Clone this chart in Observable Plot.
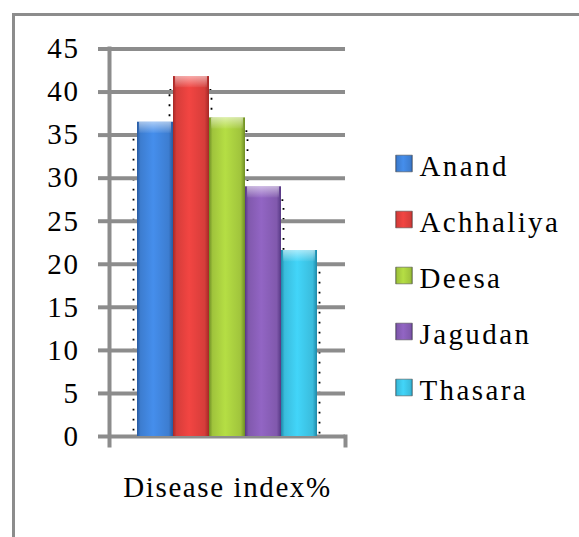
<!DOCTYPE html>
<html><head><meta charset="utf-8">
<script src="https://cdn.jsdelivr.net/npm/d3@7"></script>
<script src="https://cdn.jsdelivr.net/npm/@observablehq/plot@0.6"></script>
<style>
html,body{margin:0;padding:0;background:#fff;}
#wrap{position:relative;width:579px;height:537px;overflow:hidden;background:#fff;}
#wrap svg{position:absolute;top:0;max-width:none;}
#border{position:absolute;left:12px;top:13px;width:620px;height:600px;border:3px solid #8c8c8c;box-sizing:border-box;pointer-events:none;}
</style></head><body>
<div id="wrap"></div>
<script>
// ---- data ----
const category = "Disease index%";
const series = ["Anand", "Achhaliya", "Deesa", "Jagudan", "Thasara"];
const values = [36.5, 41.8, 37.0, 29.0, 21.6];
const yTicks = [0, 5, 10, 15, 20, 25, 30, 35, 40, 45];
const baseColors = ["#3d7dd0", "#d63d3a", "#a0c43c", "#8159ad", "#3abcdc"];
const edgeColors = ["#285aa0", "#a52826", "#6f8e25", "#563884", "#1d88a8"];

const rows = series.map((s, i) => ({category, series: s, value: values[i]}));

const wrap = document.getElementById("wrap");

// gradient definitions (styling only)
const ns = "http://www.w3.org/2000/svg";
const defsSvg = document.createElementNS(ns, "svg");
defsSvg.setAttribute("width", 0); defsSvg.setAttribute("height", 0);
defsSvg.style.position = "absolute";
let defsHtml = "<defs>";
series.forEach((s, i) => {
  const light = d3.color(baseColors[i]).brighter(0.35).formatHex();
  defsHtml += `<linearGradient id="grad${i}" x1="0" x2="1" y1="0" y2="0">
    <stop offset="0" stop-color="${edgeColors[i]}"/>
    <stop offset="0.1" stop-color="${baseColors[i]}"/>
    <stop offset="0.45" stop-color="${light}"/>
    <stop offset="0.88" stop-color="${baseColors[i]}"/>
    <stop offset="1" stop-color="${edgeColors[i]}"/>
  </linearGradient>`;
});
defsHtml += `<linearGradient id="topHi" x1="0" x2="0" y1="0" y2="1">
  <stop offset="0" stop-color="#fff" stop-opacity="0.55"/>
  <stop offset="1" stop-color="#fff" stop-opacity="0.05"/>
</linearGradient></defs>`;
defsSvg.innerHTML = defsHtml;
wrap.appendChild(defsSvg);

const fontStyle = {
  background: "transparent",
  fontFamily: "Liberation Serif",
  fontSize: "29px",
  color: "#000"
};
const colorScale = {domain: series, range: series.map((s, i) => `url(#grad${i})`)};

const main = Plot.plot({
  width: 579, height: 537,
  marginLeft: 109, marginRight: 234, marginTop: 48, marginBottom: 92,
  style: fontStyle,
  fx: {domain: [category], paddingInner: 0, paddingOuter: 0, label: null},
  x: {domain: series, paddingInner: 0, paddingOuter: 0.74, axis: null},
  y: {domain: [0, 45], range: [436, 48.5]},
  color: colorScale,
  marks: [
    Plot.barY(rows, {fx: "category", x: "series", y1: 0, y2: d => d.value - 1.6,
      fill: "none", stroke: "#000", strokeWidth: 1.8, strokeDasharray: "1.8,8.2",
      insetLeft: -3.5, insetRight: -2.5}),
    Plot.gridY(yTicks, {stroke: "#8c8c8c", strokeOpacity: 1, strokeWidth: 4}),
    Plot.frame({anchor: "left", stroke: "#8c8c8c", strokeWidth: 4}),
    Plot.frame({anchor: "right", stroke: "#8c8c8c", strokeWidth: 4, insetTop: 388}),
    Plot.axisY(yTicks, {tickSize: 11, tickPadding: 19, stroke: "#8c8c8c", strokeWidth: 4,
      fontSize: 29, fill: "#000", label: null}),
    Plot.axisFx({anchor: "bottom", tickSize: 0, tickPadding: 31, fontSize: 29, fill: "#000", label: null}),
    Plot.barY(rows, {fx: "category", x: "series", y: "value", fill: "series"}),
    Plot.barY(rows, {fx: "category", x: "series", y1: d => d.value - 1.3, y2: "value",
      fill: "url(#topHi)", insetLeft: 2, insetRight: 2})
  ]
});
main.style.left = "0px";
wrap.appendChild(main);

const legend = Plot.plot({
  width: 189, height: 537, margin: 0,
  style: fontStyle,
  y: {type: "point", domain: series, range: [166, 390], padding: 0, axis: null},
  color: colorScale,
  marks: [
    Plot.dot(series, {y: d => d, frameAnchor: "left", dx: 13.5, dy: -3, symbol: "square", r: 9.4, fill: d => d, stroke: "#555", strokeWidth: 0.6}),
    Plot.text(series, {y: d => d, text: d => d, frameAnchor: "left", dx: 29, textAnchor: "start",
      fontSize: 29, fill: "#000"})
  ]
});
legend.style.left = "390px";
wrap.appendChild(legend);

// letter spacing like the original rendering (styling only)
d3.select(main).selectAll("text").style("letter-spacing", "1.6px");
d3.select(legend).selectAll("text").style("letter-spacing", "2.4px");

const border = document.createElement("div");
border.id = "border";
wrap.appendChild(border);
</script>
</body></html>
